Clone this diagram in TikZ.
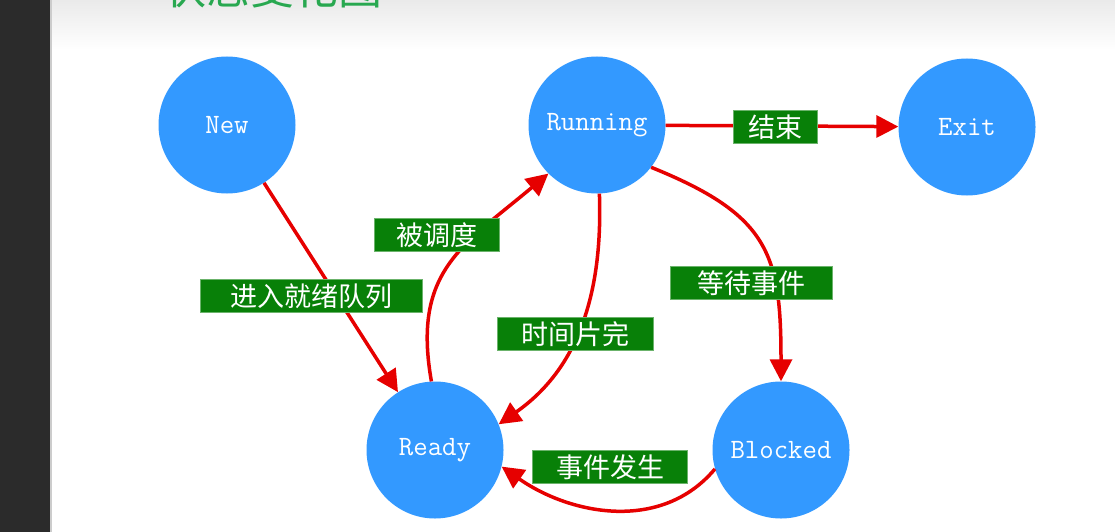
\documentclass[tikz,border=0pt]{standalone}
\usepackage{fontspec}
\newfontfamily\cjk{Noto Sans CJK SC}
\usetikzlibrary{arrows.meta}
\definecolor{nodeblue}{RGB}{51,153,255}
\definecolor{arrred}{RGB}{230,0,0}
\definecolor{lblgreen}{RGB}{8,128,8}
\definecolor{titlegreen}{RGB}{40,168,80}
\definecolor{stripgray}{RGB}{43,43,43}
\definecolor{topgray}{RGB}{234,234,234}
\begin{document}
\begin{tikzpicture}[x=1pt,y=-1pt,
 state/.style={circle, fill=nodeblue, minimum size=137pt, inner sep=0pt, text=white, font=\ttfamily\fontsize{28}{28}\selectfont},
 trans/.style={draw=arrred, line width=3.5pt, -{Triangle[length=22pt,width=22pt]}},
 lbl/.style={fill=lblgreen, draw=lblgreen!60!white, line width=0.6pt, text=white, font=\cjk\fontsize{27}{27}\selectfont, minimum height=33pt, inner sep=0pt},
]
\useasboundingbox (0,0) rectangle (1115,532);
\clip (0,0) rectangle (1115,532);
\fill[white] (0,0) rectangle (1115,532);
\shade[top color=topgray, bottom color=white] (50,0) rectangle (1115,50);
\fill[stripgray] (0,0) rectangle (50,532);
\fill[gray!40] (50,0) rectangle (52,532);
\node[anchor=base west, inner sep=0pt, text=titlegreen, font=\cjk\fontsize{44}{44}\selectfont] (title) at (162,5) {状态变化图};

\node[state] (new) at (227,125) {New};
\node[state] (run) at (597,125) {Running};
\node[state] (exit) at (967,127) {Exit};
\node[state] (ready) at (435,450) {Ready};
\node[state] (blk) at (781,450) {Blocked};

\draw[trans] (new) -- (ready);
\draw[trans] (ready.93) to[out=100, in=220, looseness=1.2] (run.225);
\draw[trans] (run.272) to[out=272, in=35] (ready.22);
\draw[trans] (run) -- (exit);
\draw[trans] (run.-38) to[out=-22, in=90, looseness=1.3] (blk.90);
\draw[trans] (blk.196) to[out=230, in=-35] (ready.-14);

\node[lbl, minimum width=222pt] (l1) at (311,296) {进入就绪队列};
\node[lbl, minimum width=125pt] (l2) at (437,235) {被调度};
\node[lbl, minimum width=156pt] (l3) at (575,334) {时间片完};
\node[lbl, minimum width=84pt] (l4) at (775,127) {结束};
\node[lbl, minimum width=162pt] (l5) at (751,283) {等待事件};
\node[lbl, minimum width=155pt] (l6) at (610,467) {事件发生};
\end{tikzpicture}
\end{document}
